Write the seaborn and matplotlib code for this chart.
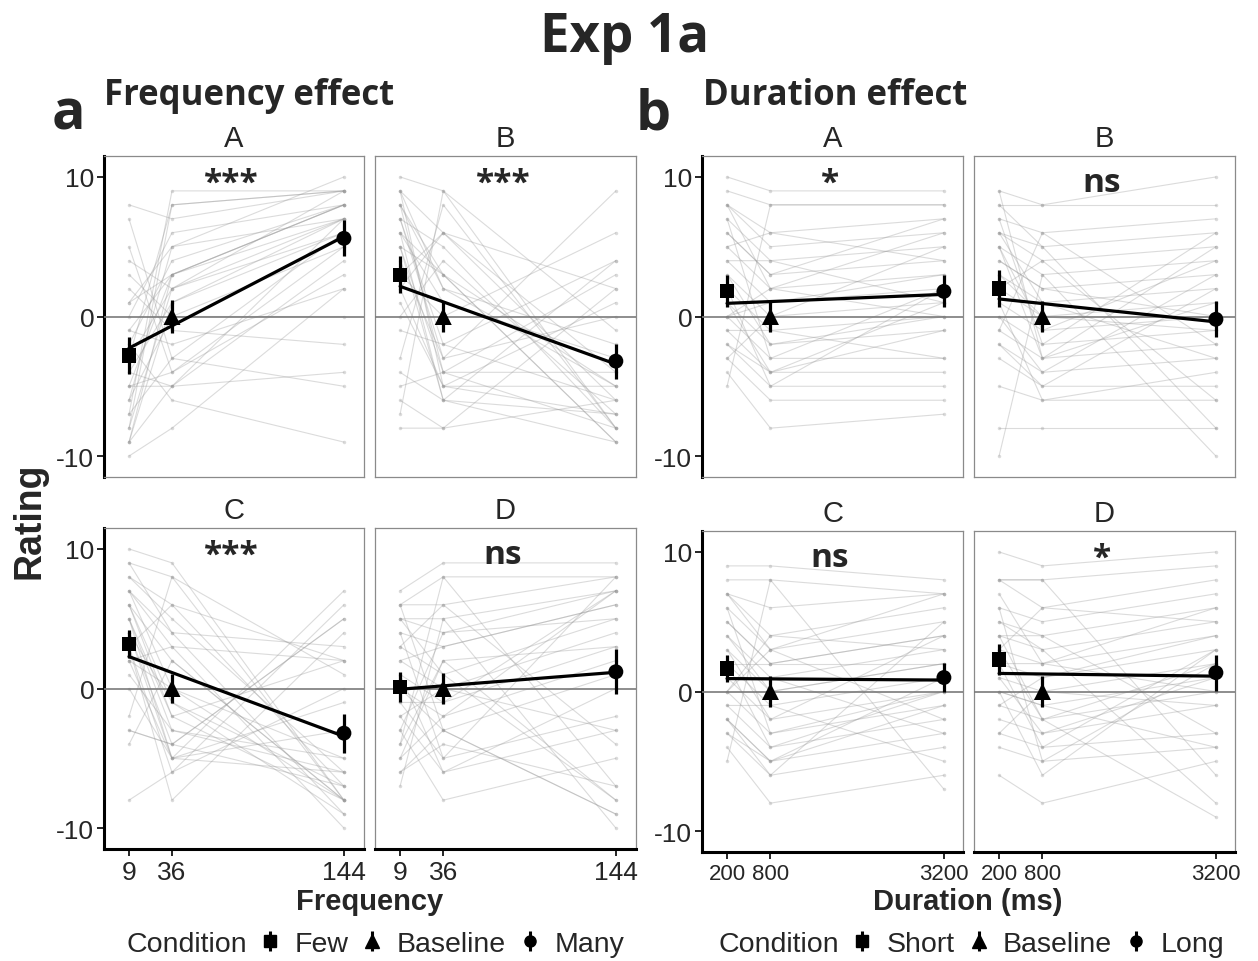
import matplotlib.pyplot as plt
import seaborn as sns
import numpy as np
import pandas as pd
from matplotlib.lines import Line2D
from matplotlib.legend_handler import HandlerTuple

W, H = 1258, 962

FREQ_X = [9, 36, 144]
DUR_X = [200, 800, 3200]
FREQ_CONDS = ['Few', 'Baseline', 'Many']
DUR_CONDS = ['Short', 'Baseline', 'Long']
PANELS = ['A', 'B', 'C', 'D']

# group means (low, baseline, high) and error bar half widths
FREQ_MEAN_A = [-2.8, 0.0, 5.6]
FREQ_MEAN_B = [3.0, 0.0, -3.2]
FREQ_MEAN_C = [3.2, 0.0, -3.2]
FREQ_MEAN_D = [0.1, 0.0, 1.2]
FREQ_ERR_A = [1.35, 1.15, 1.3]
FREQ_ERR_B = [1.3, 1.1, 1.25]
FREQ_ERR_C = [1.0, 1.05, 1.4]
FREQ_ERR_D = [1.1, 1.1, 1.6]

DUR_MEAN_A = [1.8, 0.0, 1.8]
DUR_MEAN_B = [2.0, 0.0, -0.2]
DUR_MEAN_C = [1.65, 0.0, 1.0]
DUR_MEAN_D = [2.3, 0.0, 1.35]
DUR_ERR_A = [1.15, 1.1, 1.15]
DUR_ERR_B = [1.3, 1.1, 1.3]
DUR_ERR_C = [1.0, 1.1, 1.05]
DUR_ERR_D = [1.1, 1.1, 1.3]

FREQ_SIG = ['***', '***', '***', 'ns']
DUR_SIG = ['*', 'ns', 'ns', '*']

# individual participants (low, baseline, high)
FREQ_A_LOW = [-10, -9, -9, -8, -8, -7, -7, -6, -6, -5, -5, -4, -4, -3, -3, -2, -2, -1, 0, 1, 2, 3, 4, 5, 7, 8, -9, -5, -1, 1]
FREQ_A_BASE = [-8, -5, 3, 8, 2, -3, 9, 5, 0, -4, 3, 1, -5, 2, 8, -6, 4, -2, 6, 3, -1, 0, 2, -4, -3, 7, 1, -5, 3, 5]
FREQ_A_HIGH = [2, 7, 8, 9, 9, 6, 9, 7, 5, 3, 8, 6, 4, 7, 9, -9, 8, 2, 8, 7, -2, 0, 6, 5, -5, 9, 7, -4, 8, 10]

FREQ_B_LOW = [10, 9, 9, 8, 8, 7, 7, 6, 6, 5, 5, 4, 3, 2, 1, 0, -1, -3, -4, -5, -6, -8, 9, 7, 6, 8, 3, 2, 5, -7]
FREQ_B_BASE = [9, 6, -5, 3, 2, -2, 5, -6, 1, -4, 3, -3, 0, 6, -5, 4, -2, 8, -6, -4, -8, -8, 2, -3, 3, -4, 6, -5, -6, 9]
FREQ_B_HIGH = [-8, -6, -7, -9, -5, -6, -8, -7, -3, -4, -9, 9, 6, 2, -5, -7, 4, -8, -9, 3, 2, -6, -2, 0, -5, -8, -4, 1, 4, -1]

FREQ_C_LOW = [10, 9, 8, 8, 7, 7, 6, 6, 5, 5, 4, 4, 3, 3, 2, 2, 1, 0, -2, -3, -4, -8, 9, 7, 6, 5, 4, 3, -3, 2]
FREQ_C_BASE = [9, 8, 6, 5, 4, 3, 2, -1, -2, -3, -4, -5, -6, -8, 3, 0, -3, -5, 8, -4, 2, -6, 4, 0, -2, -5, -1, 6, -4, -5]
FREQ_C_HIGH = [-8, -8, -7, -6, -9, -10, -8, -7, 2, -5, 5, 7, 6, 4, 2, -8, -6, -3, 1, -7, -8, 0, 3, -5, -8, -1, -9, 2, 5, -6]

FREQ_D_LOW = [7, 6, 6, 5, 5, 4, 3, 2, 1, 0, 0, -1, -2, -3, -4, -5, -6, -7, 4, 2, -2, -5, 5, 1, -3, -6, 3, -1, -4, 6]
FREQ_D_BASE = [9, 8, 6, 5, 4, 3, 1, 0, -1, -2, -3, -5, -6, -8, 8, 2, -3, 5, -5, 3, 0, -2, 1, -6, 4, -4, 6, -1, 2, -3]
FREQ_D_HIGH = [9, 8, 8, 7, 7, 6, 5, 4, 3, 2, 1, -2, -3, -5, -7, -8, -9, -10, 8, 6, -3, 7, -8, 0, 5, -7, -4, 7, 3, -9]

DUR_A_LOW = [10, 9, 8, 8, 7, 6, 5, 4, 3, 2, 1, 0, -1, -2, -3, -4, -5, 8, 7, 4, -2, 0, 3, -3, 6, 2, -1, 5, 1, 0]
DUR_A_BASE = [9, 8, 6, 5, 4, 3, 2, 1, 0, -1, -2, -3, -4, -5, -6, -8, 8, 2, -3, 4, -4, 1, -2, 0, 3, -5, -1, 6, -4, 2]
DUR_A_HIGH = [9, 8, 7, 6, 5, 4, 3, 2, 1, 0, -1, -3, -4, -5, -6, -7, 8, 6, 2, 1, -1, 3, 0, 5, 7, 2, -3, 4, 1, 0]

DUR_B_LOW = [9, 8, 7, 6, 6, 5, 4, 3, 2, 1, 0, -1, -2, -3, -5, -8, -10, 9, 6, 5, 2, -2, 3, 4, 0, -1, 7, 1, 8, 5]
DUR_B_BASE = [8, 8, 6, 5, 4, 3, 2, 1, 0, -1, -2, -3, -4, -5, -6, -8, 3, -3, 1, -1, 4, -5, 0, 2, -4, 6, -2, -6, 5, -3]
DUR_B_HIGH = [10, 8, 7, 6, 5, 4, 3, 2, 1, 0, -1, -2, -3, -5, -6, -8, -10, 5, -3, 4, -6, 2, -1, 0, 3, -2, 6, -4, -8, 1]

DUR_C_LOW = [9, 8, 7, 7, 6, 5, 4, 3, 2, 1, 0, -1, -2, -3, -4, -5, 7, 3, 2, -2, 0, 6, 1, -3, 4, -1, 5, 2, 0, -2]
DUR_C_BASE = [9, 8, 6, 4, 3, 2, 1, 0, -1, -2, -3, -4, -5, -6, -8, 8, 3, -2, 2, -5, 4, -3, 1, -5, 0, -1, 2, -4, 3, -6]
DUR_C_HIGH = [8, 7, 7, 6, 5, 4, 3, 2, 1, 0, -1, -2, -3, -4, -6, -7, 7, 4, 2, -1, 3, 0, -3, 1, 2, -5, 4, 0, -2, 5]

DUR_D_LOW = [10, 8, 8, 6, 5, 4, 3, 2, 1, 0, -1, -2, -3, -4, -6, 8, 5, 3, 2, 0, 4, 1, -1, 6, -3, 3, 2, 7, 0, 4]
DUR_D_BASE = [9, 8, 6, 5, 4, 3, 2, 1, 0, -1, -2, -3, -4, -5, -8, 8, 3, -2, 2, -6, 4, -3, 1, -5, 0, 6, -4, 2, -1, -2]
DUR_D_HIGH = [10, 9, 8, 7, 6, 5, 4, 3, 2, 1, 0, -1, -3, -4, -5, -6, -8, -9, 6, 3, -3, 1, 4, 2, -1, 5, 3, 0, -4, 2]

sns.set_style("white")
plt.rcParams['font.family'] = ['Liberation Sans', 'DejaVu Sans']
plt.rcParams['axes.unicode_minus'] = False
BOLD = ['Open Sans', 'DejaVu Sans']

freq_data = {
    'A': (FREQ_A_LOW, FREQ_A_BASE, FREQ_A_HIGH, FREQ_MEAN_A, FREQ_ERR_A),
    'B': (FREQ_B_LOW, FREQ_B_BASE, FREQ_B_HIGH, FREQ_MEAN_B, FREQ_ERR_B),
    'C': (FREQ_C_LOW, FREQ_C_BASE, FREQ_C_HIGH, FREQ_MEAN_C, FREQ_ERR_C),
    'D': (FREQ_D_LOW, FREQ_D_BASE, FREQ_D_HIGH, FREQ_MEAN_D, FREQ_ERR_D),
}
dur_data = {
    'A': (DUR_A_LOW, DUR_A_BASE, DUR_A_HIGH, DUR_MEAN_A, DUR_ERR_A),
    'B': (DUR_B_LOW, DUR_B_BASE, DUR_B_HIGH, DUR_MEAN_B, DUR_ERR_B),
    'C': (DUR_C_LOW, DUR_C_BASE, DUR_C_HIGH, DUR_MEAN_C, DUR_ERR_C),
    'D': (DUR_D_LOW, DUR_D_BASE, DUR_D_HIGH, DUR_MEAN_D, DUR_ERR_D),
}

MARKERS = ['s', '^', 'o']
SIZES = [105, 150, 115]


def rect(l, t, r, b):
    return [l / W, 1 - b / H, (r - l) / W, (b - t) / H]


def draw_panel(ax, xs, vals, conds, sig, title, is_left, is_bottom, xlim, tick_fs):
    low, base, high, means, errs = vals
    rows = []
    for i in range(len(low)):
        for x, v in zip(xs, (low[i], base[i], high[i])):
            rows.append((i, x, v))
    ind = pd.DataFrame(rows, columns=['pid', 'x', 'rating'])
    sns.lineplot(data=ind, x='x', y='rating', units='pid', estimator=None,
                 color='0.6', alpha=0.35, lw=0.8, marker='o', markersize=2.5,
                 markeredgewidth=0, legend=False, ax=ax, zorder=2)
    ax.axhline(0, color='#7a7a7a', lw=1.2, zorder=3)

    m = pd.DataFrame({'x': xs, 'mean': means, 'err': errs, 'cond': conds})
    ax.vlines(m['x'], m['mean'] - m['err'], m['mean'] + m['err'],
              color='black', lw=2.3, zorder=5)
    sns.regplot(data=m, x='x', y='mean', ci=None, scatter=False, color='black',
                line_kws=dict(lw=2.3, zorder=5), ax=ax)
    sns.scatterplot(data=m, x='x', y='mean', style='cond', size='cond',
                    markers=dict(zip(conds, MARKERS)), sizes=dict(zip(conds, SIZES)),
                    color='black', edgecolor='black', linewidth=0, legend=False,
                    ax=ax, zorder=6)

    ax.text(0.49, 0.89, sig, transform=ax.transAxes, ha='center', va='baseline',
            fontsize=24, fontweight='bold', family=BOLD, zorder=7)
    ax.set_title(title, fontsize=21, pad=7)
    ax.set_xlim(*xlim)
    ax.set_ylim(-11.5, 11.5)
    ax.set_xticks(xs)
    ax.set_xticklabels([str(x) for x in xs])
    ax.set_yticks([-10, 0, 10])
    ax.set_yticklabels(['-10', '0', '10'])
    ax.set_xlabel('')
    ax.set_ylabel('')
    for sp in ax.spines.values():
        sp.set_color('#8a8a8a')
        sp.set_linewidth(0.9)
    if is_left:
        ax.spines['left'].set_color('black')
        ax.spines['left'].set_linewidth(2.2)
    if is_bottom:
        ax.spines['bottom'].set_color('black')
        ax.spines['bottom'].set_linewidth(2.2)
    ax.tick_params(axis='y', left=is_left, labelleft=is_left, length=5, width=1.2,
                   color='black', labelsize=19, pad=2)
    ax.tick_params(axis='x', bottom=is_bottom, labelbottom=is_bottom, length=5,
                   width=1.2, color='black', labelsize=tick_fs, pad=3)


fig = plt.figure(figsize=(W / 100, H / 100), dpi=100)

freq_cols = [(104, 364), (375, 636)]
dur_cols = [(702, 963), (974, 1235)]
freq_rows = [(157, 478), (529, 850)]
dur_rows = [(157, 478), (532, 853)]

for k, p in enumerate(PANELS):
    r, c = divmod(k, 2)
    ax = fig.add_axes(rect(freq_cols[c][0], freq_rows[r][0], freq_cols[c][1], freq_rows[r][1]))
    draw_panel(ax, FREQ_X, freq_data[p], FREQ_CONDS, FREQ_SIG[k], p,
               c == 0, r == 1, (-6.7, 156.6), 19)
    ax = fig.add_axes(rect(dur_cols[c][0], dur_rows[r][0], dur_cols[c][1], dur_rows[r][1]))
    draw_panel(ax, DUR_X, dur_data[p], DUR_CONDS, DUR_SIG[k], p,
               c == 0, r == 1, (-147, 3464), 16)

# titles
fig.text(625 / W, 1 - 52 / H, 'Exp 1a', ha='center', va='baseline', fontsize=38,
         fontweight='bold', family=BOLD)
fig.text(52 / W, 1 - 130 / H, 'a', ha='left', va='baseline', fontsize=40,
         fontweight='bold', family=BOLD)
fig.text(636 / W, 1 - 130 / H, 'b', ha='left', va='baseline', fontsize=40,
         fontweight='bold', family=BOLD)
fig.text(104 / W, 1 - 105 / H, 'Frequency effect', ha='left', va='baseline',
         fontsize=25, fontweight='bold', family=BOLD)
fig.text(703 / W, 1 - 105 / H, 'Duration effect', ha='left', va='baseline',
         fontsize=25, fontweight='bold', family=BOLD)

fig.text(370 / W, 1 - 910 / H, 'Frequency', ha='center', va='baseline',
         fontsize=21, fontweight='bold')
fig.text(968 / W, 1 - 910 / H, 'Duration (ms)', ha='center', va='baseline',
         fontsize=21, fontweight='bold')
fig.text(29 / W, 1 - 521 / H, 'Rating', ha='center', va='center', rotation=90,
         fontsize=27, fontweight='bold')


def legend_handle(marker, ms):
    bar = Line2D([], [], marker='|', markersize=15, markeredgewidth=2.2,
                 color='black', ls='')
    pt = Line2D([], [], marker=marker, markersize=ms, color='black', ls='')
    return (bar, pt)


handles = [legend_handle('s', 8), legend_handle('^', 10), legend_handle('o', 8)]
renderer = fig.canvas.get_renderer()
LEG_FS = 20.5
for x0, labels in [(126, FREQ_CONDS), (718, DUR_CONDS)]:
    t = fig.text(x0 / W, 1 - 945 / H, 'Condition', ha='left', va='center',
                 fontsize=LEG_FS)
    x_end = t.get_window_extent(renderer).x1
    fig.legend(handles, labels, loc='center left',
               bbox_to_anchor=((x_end + 12) / W, 1 - 945 / H), ncol=3,
               frameon=False, fontsize=LEG_FS, handlelength=0.8,
               handletextpad=0.45, columnspacing=0.45, borderpad=0,
               borderaxespad=0,
               handler_map={tuple: HandlerTuple(ndivide=1, pad=0)})

fig.savefig('out.png', dpi=100)
